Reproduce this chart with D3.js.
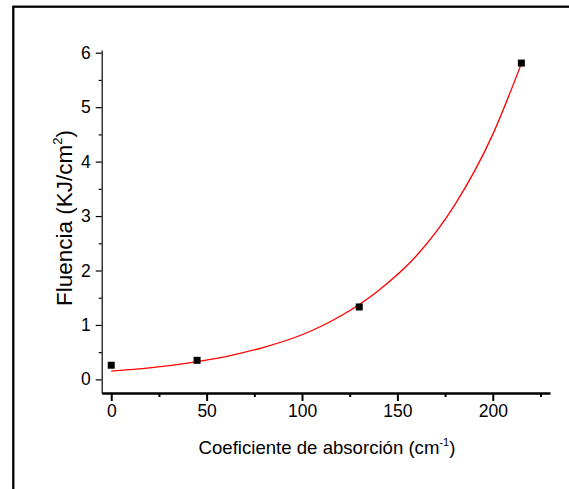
<!DOCTYPE html>
<html>
<head>
<meta charset="utf-8">
<script src="https://cdnjs.cloudflare.com/ajax/libs/d3/7.8.5/d3.min.js"></script>
<style>
    body { margin: 0; background: #fff; }
    text { font-family: "Liberation Sans", Arial, sans-serif; fill: #000; }
</style>
</head>
<body>
<div id="chart-container"></div>
<script>

// ******* data ********* //
var absorcion = [0, 45, 130, 215];
var fluencia = [0.26, 0.35, 1.33, 5.81];

// red fit line
var fitX = [0, 20, 40, 60, 80, 100, 120, 140, 160, 180, 200, 215];
var fitY = [0.15, 0.21, 0.30, 0.42, 0.59, 0.82, 1.16, 1.63, 2.27, 3.20, 4.50, 5.80];

var xTicks = [0, 50, 100, 150, 200];
var xMinor = [25, 75, 125, 175, 225];
var yTicks = [0, 1, 2, 3, 4, 5, 6];
var yMinor = [0.5, 1.5, 2.5, 3.5, 4.5, 5.5];

var width = 569,
    height = 489;

var svg = d3.select("#chart-container")
    .append("svg")
    .attr("width", width)
    .attr("height", height);

svg.append("rect")
    .attr("width", width)
    .attr("height", height)
    .attr("fill", "#fff");

// outer frame (cut at right / bottom like the original)
svg.append("rect")
    .attr("x", 13.3)
    .attr("y", 6.7)
    .attr("width", 600)
    .attr("height", 600)
    .attr("fill", "none")
    .attr("stroke", "#000")
    .attr("stroke-width", 2.3);

var x = d3.scaleLinear().domain([-5, 230]).range([101.7, 550]);
var y = d3.scaleLinear().domain([-0.25, 6.05]).range([393, 50]);

// ******************* x axis ****************** //
var xAxis = svg.append("g")
    .attr("transform", "translate(0," + y(-0.25) + ")")
    .call(d3.axisBottom(x).tickValues(xTicks).tickSize(8).tickPadding(4).tickSizeOuter(0));
xAxis.select(".domain").attr("stroke-width", 2.3);
xAxis.selectAll(".tick line").attr("stroke-width", 2);
xAxis.selectAll(".tick text")
    .attr("font-size", 17.5)
    .attr("font-family", "Liberation Sans, Arial, sans-serif");

svg.append("g")
    .attr("transform", "translate(0," + y(-0.25) + ")")
    .call(d3.axisBottom(x).tickValues(xMinor).tickSize(4).tickFormat("").tickSizeOuter(0))
    .call(function(g) { g.select(".domain").remove(); })
    .selectAll(".tick line").attr("stroke-width", 2);

// ******************* y axis ****************** //
var yAxis = svg.append("g")
    .attr("transform", "translate(" + x(-5) + ",0)")
    .call(d3.axisLeft(y).tickValues(yTicks).tickFormat(d3.format("d"))
        .tickSize(6).tickPadding(5).tickSizeOuter(0));
yAxis.select(".domain").attr("stroke-width", 1.2);
yAxis.selectAll(".tick line").attr("stroke-width", 1.2);
yAxis.selectAll(".tick text")
    .attr("font-size", 17.5)
    .attr("font-family", "Liberation Sans, Arial, sans-serif");

svg.append("g")
    .attr("transform", "translate(" + x(-5) + ",0)")
    .call(d3.axisLeft(y).tickValues(yMinor).tickSize(3).tickFormat("").tickSizeOuter(0))
    .call(function(g) { g.select(".domain").remove(); })
    .selectAll(".tick line").attr("stroke-width", 1.2);

// ******************* fit curve ****************** //
var line = d3.line()
    .x(function(d, i) { return x(fitX[i]); })
    .y(function(d) { return y(d); })
    .curve(d3.curveMonotoneX);

svg.append("path")
    .attr("d", line(fitY))
    .attr("fill", "none")
    .attr("stroke", "#ff0000")
    .attr("stroke-width", 1.3);

// ******************* points ****************** //
var sq = 7;
svg.append("g")
    .selectAll("rect")
    .data(absorcion)
    .enter().append("rect")
    .attr("x", function(d) { return x(d) - sq / 2; })
    .attr("y", function(d, i) { return y(fluencia[i]) - sq / 2; })
    .attr("width", sq)
    .attr("height", sq)
    .attr("fill", "#000");

// ******************* labels ****************** //
var xLabel = svg.append("text")
    .attr("x", 327)
    .attr("y", 454)
    .attr("text-anchor", "middle")
    .attr("font-size", 18.6);
xLabel.append("tspan").text("Coeficiente de absorción (cm");
xLabel.append("tspan").attr("font-size", 11).attr("dy", -8).text("-1");
xLabel.append("tspan").attr("dy", 8).text(")");

var yLabel = svg.append("text")
    .attr("transform", "translate(72,218) rotate(-90)")
    .attr("text-anchor", "middle")
    .attr("font-size", 22.5);
yLabel.append("tspan").text("Fluencia (KJ/cm");
yLabel.append("tspan").attr("font-size", 13).attr("dy", -10).text("2");
yLabel.append("tspan").attr("dy", 10).text(")");

</script>
</body>
</html>
